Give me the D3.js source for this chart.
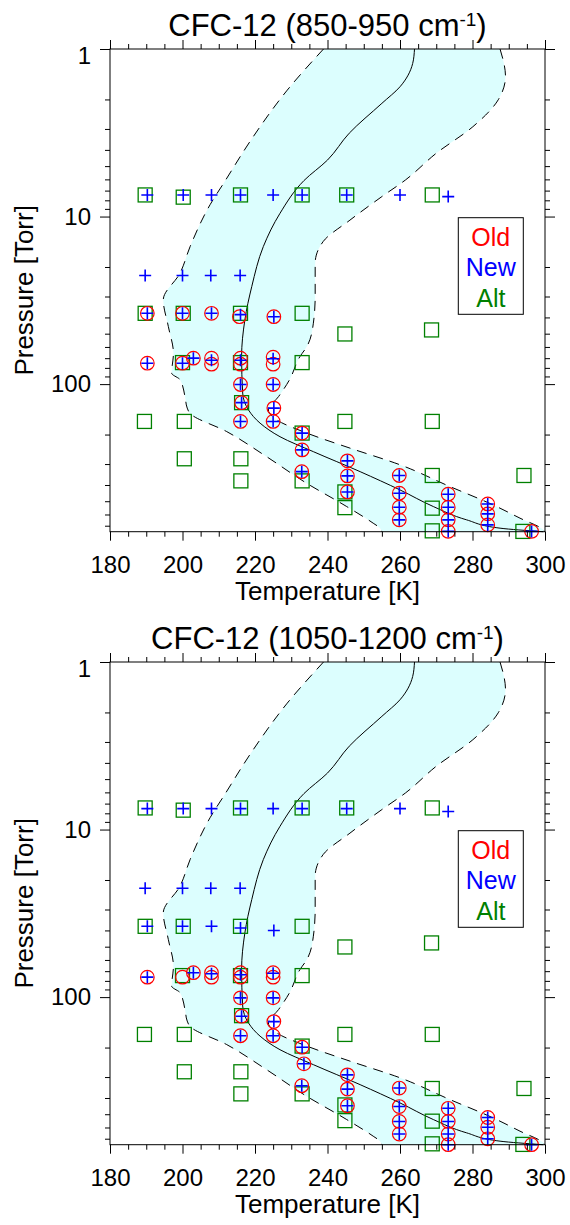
<!DOCTYPE html>
<html>
<head>
<meta charset="utf-8">
<script src="https://cdn.jsdelivr.net/npm/d3@7"></script>
<style>
  body { margin: 0; background: #fff; }
  svg { display: block; }
  text { font-family: "Liberation Sans", Arial, Helvetica, sans-serif; }
</style>
</head>
<body>
<svg id="chart" width="570" height="1225"></svg>
<script>
// ---- axis settings ----
const tempDomain = [180, 300];
const pressDomain = [1, 760];
const tempLabels = [180, 200, 220, 240, 260, 280, 300];
const pressLabels = [1, 10, 100];
const legendLabels = ["Old", "New", "Alt"];
const bandNames = ["850-950", "1050-1200"];

// ---- climatological envelope (temperature K vs pressure Torr) ----
const envLeftP = [1, 1.76, 3.49, 6.2, 8.5, 15.1, 21.8, 31.4, 45.4, 65.4, 86, 94, 119, 139, 149, 192, 271, 390, 538, 676, 724, 760];
const envLeftT = [238.9, 228.9, 218.9, 211.6, 207.6, 202.1, 199.3, 194.7, 196.1, 197.5, 197, 199.3, 200.7, 201.3, 202, 212.2, 223.2, 234.2, 245.3, 252.6, 254.5, 255];
const envMidP = [1, 1.22, 1.68, 2.11, 3.18, 4.6, 6.1, 9.56, 15.1, 26.2, 41.4, 68.5, 113, 142.6, 171, 206, 253, 333, 428, 538, 646, 724, 760];
const envMidT = [264, 263.5, 260, 255, 246, 240, 233.5, 226.9, 222.3, 219.1, 217.2, 216.3, 216.6, 218.2, 221.4, 226.9, 236.1, 249, 260, 269.2, 278.4, 287.6, 299.5];
const envRightP = [1, 1.46, 2.01, 2.91, 4.19, 6.05, 7.6, 10.5, 14.1, 19, 30, 43.3, 59.7, 68.5, 94.4, 118.7, 142.6, 163.5, 196, 241, 303, 409, 526, 631, 739, 760];
const envRightT = [287.6, 289.1, 287.1, 280.1, 270, 261.5, 255, 246.2, 238.8, 236.6, 236.6, 236.1, 234.3, 232.4, 229.5, 226.5, 223.7, 226, 234.3, 246.2, 260, 273.8, 285.7, 293.1, 299.5, 300];

// ---- measurement points: 850-950 cm-1 band ----
const oldT850 = [190.3, 200, 208, 215.7, 225.2,
  190.3, 200, 203, 208, 208, 216, 216, 225, 225,
  216, 225, 216.3, 225.2, 216, 225,
  233, 233, 232.9, 245.5, 245.5, 245.5,
  259.8, 259.8, 259.8, 259.8, 273.3, 273.3, 273.3, 273.3,
  284.2, 284.2, 284.2, 296.3];
const oldP850 = [37.8, 37.8, 37.8, 39.6, 39.6,
  75, 75, 70, 70, 76, 70, 76, 69, 76,
  100.5, 100.5, 129, 139, 167, 167,
  196, 247, 333, 287, 353, 440,
  351, 448, 543, 646, 454, 543, 646, 757,
  519, 595, 692, 757];
const newT850 = [190.3, 200.2, 208, 216, 225, 233, 245.3, 260, 273.3,
  189.7, 200, 207.8, 215.9,
  190.3, 200, 208, 216, 225.2,
  190.3, 200, 203, 208, 216, 225,
  216, 225, 216.3, 225.2, 216, 225,
  233, 233, 232.9, 245.5, 245.5, 245.5,
  259.8, 259.8, 259.8, 259.8, 273.3, 273.3, 273.3, 273.3,
  284.2, 284.2, 284.2, 296.3];
const newP850 = [7.43, 7.43, 7.43, 7.43, 7.43, 7.43, 7.43, 7.43, 7.6,
  22.5, 22.5, 22.5, 22.5,
  37.8, 37.8, 37.8, 38.5, 39.6,
  75, 75, 70, 72, 72, 70.5,
  100.5, 100.5, 129, 139, 167, 167,
  196, 247, 333, 287, 353, 440,
  351, 448, 543, 646, 454, 543, 646, 757,
  519, 595, 692, 757];

// ---- measurement points: 1050-1200 cm-1 band ----
const oldT1050 = [190.3, 200, 203, 208, 208, 216, 216, 225, 225,
  216, 225, 216.3, 225.2, 216, 225,
  233, 233.5, 232.9, 245.5, 245.5, 245.5,
  259.8, 259.8, 259.8, 259.8, 273.3, 273.3, 273.3, 273.3,
  284.2, 284.2, 284.2, 296.3];
const oldP1050 = [76, 76, 71.5, 71.5, 76, 71.5, 76, 71.5, 76,
  101, 101, 130, 140, 170, 170,
  199, 250, 338, 291, 354, 445,
  349, 450, 552, 656, 461, 552, 656, 760,
  523, 598, 701, 760];
const newT1050 = [190.3, 200.2, 208, 216, 225, 233, 245.3, 260, 273.3,
  189.7, 200, 207.8, 215.9,
  190.3, 200, 208, 216, 225.2,
  190.3, 203, 208, 216, 225,
  216, 225, 216.3, 225.2, 216, 225,
  233, 233.5, 232.9, 245.5, 245.5, 245.5,
  259.8, 259.8, 259.8, 259.8, 273.3, 273.3, 273.3, 273.3,
  284.2, 284.2, 284.2, 296.3];
const newP1050 = [7.5, 7.5, 7.5, 7.5, 7.5, 7.5, 7.5, 7.5, 7.8,
  22.4, 22.4, 22.4, 22.4,
  37.8, 37.8, 37.8, 38.7, 40,
  76, 71.5, 72.5, 73.5, 72,
  101, 101, 130, 140, 170, 170,
  199, 250, 338, 291, 354, 445,
  349, 450, 552, 656, 461, 552, 656, 760,
  523, 598, 701, 760];

// ---- alternative points (same in both bands) ----
const altT = [189.7, 200.2, 216, 233, 245.3, 268.9,
  189.7, 200.2, 216, 233, 244.8, 268.7,
  200, 216, 233, 216.3,
  189.5, 200.5, 244.8, 268.9,
  233, 200.5, 216.1, 216.1, 233,
  268.9, 294.2, 244.8, 244.8, 268.9,
  268.9, 293.9];
const altP = [7.43, 7.66, 7.43, 7.43, 7.43, 7.43,
  37.8, 37.8, 37.8, 37.8, 50.2, 47.5,
  74.4, 74.4, 74.4, 129,
  167, 167, 167, 167,
  196, 279, 279, 378, 378,
  351, 351, 440, 546, 550,
  751, 757];

const colors = { old: "#ff0000", nw: "#0000ff", alt: "#008000", fill: "#dcfefe" };

const panels = [
  { name: bandNames[0], top: 0, oldT: oldT850, oldP: oldP850, newT: newT850, newP: newP850 },
  { name: bandNames[1], top: 613, oldT: oldT1050, oldP: oldP1050, newT: newT1050, newP: newP1050 }
];

const svg = d3.select("#chart");
const left = 110, right = 545, plotTop = 49, plotBottom = 531.7;
const font = "'Liberation Sans', Arial, Helvetica, sans-serif";

const zip = (T, P) => T.map((t, i) => [t, P[i]]);

panels.forEach(panel => {
  const g = svg.append("g").attr("transform", `translate(0,${panel.top})`);
  const x = d3.scaleLinear().domain(tempDomain).range([left, right]);
  const y = d3.scaleLog().domain(pressDomain).range([plotTop, plotBottom]);

  const line = d3.line().x(d => x(d[0])).y(d => y(d[1])).curve(d3.curveMonotoneY);

  const leftPts = zip(envLeftT, envLeftP);
  const midPts = zip(envMidT, envMidP);
  const rightPts = zip(envRightT, envRightP);

  // shaded envelope: left edge down, along the bottom, right edge up
  const fillPath = line(leftPts) + line(rightPts.slice().reverse()).replace(/^M/, "L") + "Z";
  g.append("path").attr("d", fillPath).attr("fill", colors.fill).attr("stroke", "none");

  g.append("path").attr("d", line(leftPts)).attr("fill", "none")
    .attr("stroke", "#000").attr("stroke-width", 1).attr("stroke-dasharray", "10,7");
  g.append("path").attr("d", line(rightPts)).attr("fill", "none")
    .attr("stroke", "#000").attr("stroke-width", 1).attr("stroke-dasharray", "10,7");
  g.append("path").attr("d", line(midPts)).attr("fill", "none")
    .attr("stroke", "#000").attr("stroke-width", 1);

  // markers
  g.append("g").selectAll("rect").data(zip(altT, altP)).join("rect")
    .attr("x", d => x(d[0]) - 7).attr("y", d => y(d[1]) - 7)
    .attr("width", 14).attr("height", 14)
    .attr("fill", "none").attr("stroke", colors.alt).attr("stroke-width", 1.3);

  g.append("g").selectAll("circle").data(zip(panel.oldT, panel.oldP)).join("circle")
    .attr("cx", d => x(d[0])).attr("cy", d => y(d[1])).attr("r", 6.8)
    .attr("fill", "none").attr("stroke", colors.old).attr("stroke-width", 1.2);

  g.append("g").selectAll("path").data(zip(panel.newT, panel.newP)).join("path")
    .attr("d", d => `M${x(d[0]) - 6},${y(d[1])}H${x(d[0]) + 6}M${x(d[0])},${y(d[1]) - 6}V${y(d[1]) + 6}`)
    .attr("fill", "none").attr("stroke", colors.nw).attr("stroke-width", 1.6);

  // axes
  const tempTicks = d3.range(tempDomain[0], tempDomain[1] + 1, 5);
  const isMajorT = d => d % 20 === 0;
  const isMajorP = d => pressLabels.includes(d);

  const styleAxis = sel => {
    sel.attr("font-family", font).attr("font-size", 24);
    sel.select(".domain").remove();
    sel.selectAll(".tick line").attr("stroke", "#000");
    sel.selectAll(".tick text").attr("fill", "#000");
  };

  const bottomAxis = g.append("g").attr("transform", `translate(0,${plotBottom})`)
    .call(d3.axisBottom(x).tickValues(tempTicks).tickSizeOuter(0)
      .tickFormat(d => tempLabels.includes(d) ? d : ""))
    .call(styleAxis);
  bottomAxis.selectAll(".tick line").attr("y2", d => isMajorT(d) ? 9 : 5);
  bottomAxis.selectAll(".tick text").attr("y", 41.3).attr("dy", 0);

  const topAxis = g.append("g").attr("transform", `translate(0,${plotTop})`)
    .call(d3.axisTop(x).tickValues(tempTicks).tickSizeOuter(0).tickFormat(""))
    .call(styleAxis);
  topAxis.selectAll(".tick line").attr("y2", d => isMajorT(d) ? -9 : -5);

  const pTicks = y.ticks();
  const leftAxis = g.append("g").attr("transform", `translate(${left},0)`)
    .call(d3.axisLeft(y).tickValues(pTicks).tickSizeOuter(0)
      .tickFormat(d => isMajorP(d) ? String(d) : ""))
    .call(styleAxis);
  leftAxis.selectAll(".tick line").attr("x2", d => isMajorP(d) ? -10 : -5);
  leftAxis.selectAll(".tick text").attr("x", -19).attr("dy", 0)
    .attr("y", d => d === 1 ? 14 : 7.5);

  const rightAxis = g.append("g").attr("transform", `translate(${right},0)`)
    .call(d3.axisRight(y).tickValues(pTicks).tickSizeOuter(0).tickFormat(""))
    .call(styleAxis);
  rightAxis.selectAll(".tick line").attr("x2", d => isMajorP(d) ? 10 : 5);

  // frame
  g.append("rect").attr("x", left).attr("y", plotTop)
    .attr("width", right - left).attr("height", plotBottom - plotTop)
    .attr("fill", "none").attr("stroke", "#000").attr("stroke-width", 1);

  // title with superscript
  const title = g.append("text").attr("x", (left + right) / 2).attr("y", 36)
    .attr("text-anchor", "middle").attr("font-size", 31).attr("fill", "#000");
  title.append("tspan").text(`CFC-12 (${panel.name} cm`);
  title.append("tspan").attr("font-size", 19).attr("dy", -10).text("-1");
  title.append("tspan").attr("dy", 10).text(")");

  // axis titles
  g.append("text").attr("x", (left + right) / 2).attr("y", 600)
    .attr("text-anchor", "middle").attr("font-size", 26).text("Temperature [K]");
  g.append("text")
    .attr("transform", `translate(33,${(plotTop + plotBottom) / 2}) rotate(-90)`)
    .attr("text-anchor", "middle").attr("font-size", 26).text("Pressure [Torr]");

  // legend
  const lg = g.append("g");
  lg.append("rect").attr("x", 458.3).attr("y", 217.7).attr("width", 65).attr("height", 96.6)
    .attr("fill", "#fff").attr("stroke", "#000").attr("stroke-width", 1);
  const legendColors = [colors.old, colors.nw, colors.alt];
  lg.selectAll("text").data(legendLabels).join("text")
    .attr("x", 490.8).attr("y", (d, i) => 246 + i * 30.3)
    .attr("text-anchor", "middle").attr("font-size", 25)
    .attr("fill", (d, i) => legendColors[i]).text(d => d);
});
</script>
</body>
</html>
